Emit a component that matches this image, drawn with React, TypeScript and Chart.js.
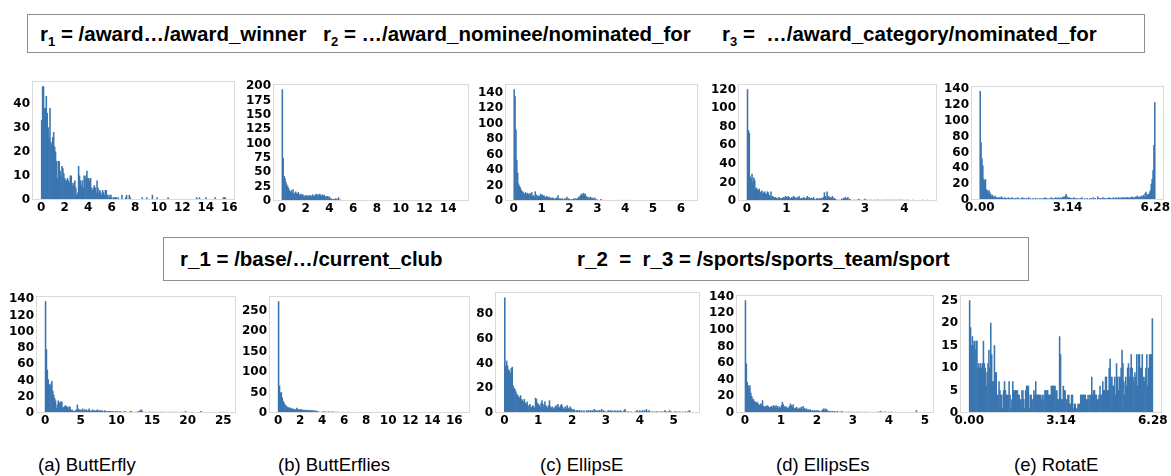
import { useEffect, useRef } from "react";
import { Chart, registerables } from "chart.js";

Chart.register(...registerables);

// ---------- DATA (histogram counts, 200 equal bins over each range) ----------
const aRange = [0, 15.7];
const aCounts = [
  33,47,47,38,38,43,36,30,26,38, 24,23,26,28,22,20,16,9,16,16,
  12,10,14,13,11,9,8,8,9,8, 7,10,10,6,7,6,8,5,2,3,
  14,10,8,6,8,5,10,9,10,12, 9,9,8,9,5,4,5,6,5,3,
  8,5,3,4,3,2,4,3,2,4, 4,2,1,2,1,2,1,0,1,1,
  1,1,0,1,0,0,0,2,0,0, 0,1,2,0,0,2,1,0,0,0,
  0,0,0,0,0,0,0,0,0,1, 0,0,0,0,1,0,0,0,0,0,
  2,0,0,0,0,1,0,0,0,0, 0,0,0,0,0,0,0,1,0,0,
  0,0,0,0,0,0,0,0,0,0, 0,0,0,0,0,0,0,0,0,0,
  0,0,0,0,0,0,0,0,1,0, 0,1,0,0,0,0,0,0,1,0,
  0,0,0,0,0,0,0,0,1,0, 0,0,0,0,0,0,0,1,1,1,
];
const aXTicks = [0, 2, 4, 6, 8, 10, 12, 14, 16];
const aYTicks = [0, 10, 20, 30, 40];

const bRange = [0, 15.0];
const bCounts = [
  194,74,43,39,33,28,25,22,18,15, 18,14,20,14,12,16,13,12,15,11,
  10,12,9,11,8,9,7,10,8,9, 8,10,9,7,11,9,8,10,12,9,
  11,9,12,10,8,11,9,10,7,8, 6,8,5,7,3,4,2,3,2,3,
  4,2,3,6,1,2,1,0,1,1, 0,1,1,0,1,0,1,1,0,1,
  0,1,0,0,1,0,1,0,0,1, 0,0,1,0,1,0,0,1,0,1,
  0,1,0,0,1,0,1,0,0,1, 0,0,1,0,0,1,0,1,0,0,
  1,0,0,1,0,0,1,0,1,0, 0,1,0,0,1,0,0,0,1,0,
  1,0,0,1,0,1,0,0,0,1, 0,0,1,0,0,0,1,0,0,0,
  1,0,0,0,1,0,0,1,0,0, 0,0,0,1,0,0,0,0,0,0,
  0,0,0,0,0,0,0,0,0,0, 0,0,0,0,0,0,0,0,1,1,
];
const bXTicks = [0, 2, 4, 6, 8, 10, 12, 14];
const bYTicks = [0, 25, 50, 75, 100, 125, 150, 175, 200];

const cRange = [0, 6.3];
const cCounts = [
  144,135,92,53,36,22,19,17,14,12, 12,10,9,11,8,10,9,7,10,8,
  11,6,7,5,12,8,6,7,5,6, 9,7,8,6,7,5,4,6,5,4,
  5,3,4,3,4,3,2,3,4,3, 7,3,2,3,2,3,1,2,3,2,
  5,2,3,2,1,2,1,2,3,1, 3,2,3,4,5,6,8,9,7,10,
  8,9,6,4,5,3,4,5,3,4, 3,2,4,1,2,1,1,0,1,2,
  1,0,1,1,0,0,1,0,0,1, 0,1,0,0,1,0,0,0,1,0,
  0,0,1,0,0,0,0,1,0,0, 1,0,0,0,0,0,0,0,0,1,
  0,0,0,0,0,1,0,0,0,0, 0,0,0,0,0,0,0,0,1,0,
  0,0,0,0,0,0,0,0,0,0, 0,0,0,0,0,0,0,0,0,0,
  0,0,0,0,0,0,0,0,0,0, 0,0,0,0,0,0,0,0,0,1,
];
const cXTicks = [0, 1, 2, 3, 4, 5, 6];
const cYTicks = [0, 20, 40, 60, 80, 100, 120, 140];

const dRange = [0, 4.6];
const dCounts = [
  120,76,73,26,24,29,20,25,22,13, 14,12,11,13,9,10,11,8,9,10,
  8,7,10,9,6,5,10,4,5,4, 3,4,3,2,3,4,2,3,2,3,
  4,3,5,4,3,5,4,2,3,4, 3,5,4,3,2,4,3,5,3,2,
  3,2,4,3,2,3,5,2,4,3, 2,3,2,4,2,1,2,3,2,2,
  3,2,3,2,4,9,5,3,10,4, 5,3,4,3,5,2,3,2,1,1,
  1,0,1,0,2,1,3,2,4,2, 3,4,1,2,1,0,1,0,1,0,
  1,1,0,2,0,1,0,0,1,0, 2,1,0,1,0,1,0,1,0,0,
  1,0,1,0,1,1,0,0,1,0, 1,0,1,1,0,1,0,1,0,1,
  0,1,1,0,1,0,1,0,1,1, 0,1,0,1,0,0,1,0,1,0,
  0,0,0,1,0,0,0,0,0,0, 0,0,0,0,1,0,0,0,0,1,
];
const dXTicks = [0, 1, 2, 3, 4];
const dYTicks = [0, 20, 40, 60, 80, 100, 120];

const eRange = [0, 6.2832];
const eCounts = [
  137,72,52,43,26,24,26,13,12,9, 12,9,7,5,6,4,3,5,3,3,
  2,3,3,2,4,3,2,1,3,2, 2,1,3,2,1,2,3,1,2,1,
  2,1,2,3,1,1,2,1,3,2, 1,2,1,2,1,3,1,2,1,1,
  2,1,1,2,1,2,1,1,2,1, 1,2,1,2,3,1,2,1,1,2,
  1,3,2,1,2,1,3,2,2,3, 2,1,3,2,3,4,3,5,7,4,
  3,2,3,2,2,1,2,3,1,2, 1,2,1,1,2,1,3,1,1,2,
  1,1,2,1,1,2,1,2,1,3, 1,2,1,1,4,2,1,2,1,2,
  3,1,2,1,2,1,2,3,2,2, 1,2,3,1,2,3,2,1,3,2,
  2,3,2,3,2,3,2,3,3,2, 3,2,3,4,3,3,2,4,3,5,
  3,4,3,4,5,4,6,4,8,10, 5,7,6,9,12,20,26,37,69,123,
];
const eXTicks = [0, 3.1416, 6.2832];
const eXLabels = ["0.00", "3.14", "6.28"];
const eYTicks = [0, 20, 40, 60, 80, 100, 120, 140];

const fRange = [0, 25.5];
const fCounts = [
  137,78,53,41,35,33,36,39,27,22, 18,15,6,10,15,12,13,14,13,6,
  7,8,9,8,7,5,8,7,3,4, 3,2,2,3,4,10,5,4,3,4,
  3,5,2,4,3,4,2,3,5,2, 3,2,4,2,3,2,3,4,2,3,
  3,2,3,2,1,3,2,2,1,2, 2,1,2,1,2,1,1,2,1,2,
  1,1,2,1,0,1,1,2,1,1, 1,0,1,1,2,1,0,1,1,0,
  1,1,2,1,3,4,3,1,0,1, 1,0,1,0,1,1,0,1,0,1,
  0,1,0,1,1,0,0,1,0,1, 0,1,0,0,1,0,1,0,0,0,
  1,0,0,1,0,1,0,0,0,1, 0,0,1,0,2,0,0,1,0,0,
  0,1,0,0,0,0,0,0,0,0, 0,2,0,0,0,0,0,0,0,0,
  0,0,0,0,0,0,0,0,0,0, 0,0,1,0,0,1,0,0,0,1,
];
const fXTicks = [0, 5, 10, 15, 20, 25];
const fYTicks = [0, 20, 40, 60, 80, 100, 120, 140];

const gRange = [0, 16.6];
const gCounts = [
  272,66,49,50,37,29,25,20,18,15, 14,12,13,10,11,9,10,8,9,8,
  12,9,8,7,9,7,8,6,7,6, 7,5,6,7,5,6,6,5,6,5,
  4,5,3,4,1,2,1,2,2,3, 2,3,2,1,2,3,2,2,1,3,
  2,1,2,2,1,2,1,1,2,1, 1,2,1,1,0,1,2,1,1,1,
  1,0,1,1,1,0,1,1,0,1, 1,0,0,1,0,1,0,0,1,0,
  1,0,0,0,1,0,0,1,0,0, 0,1,0,0,0,0,1,0,0,0,
  0,0,0,1,0,0,0,0,0,0, 1,0,0,0,0,0,0,1,0,0,
  0,0,0,0,1,0,0,0,0,0, 0,0,0,0,0,0,1,0,0,0,
  0,0,0,0,0,0,0,0,0,1, 0,0,0,0,0,0,0,0,0,0,
  0,0,0,0,1,0,0,0,0,0, 0,0,0,0,0,0,0,0,0,1,
];
const gXTicks = [0, 2, 4, 6, 8, 10, 12, 14, 16];
const gYTicks = [0, 50, 100, 150, 200, 250];

const hRange = [0, 5.5];
const hCounts = [
  93,38,42,38,35,34,32,36,37,22, 20,19,17,15,14,13,12,14,11,10,
  9,11,8,7,9,6,5,7,5,4, 6,5,4,12,11,8,7,6,5,8,
  10,7,5,9,6,5,4,6,10,5, 4,5,3,4,5,6,4,7,5,4,
  6,7,5,3,4,5,3,6,4,3, 5,4,3,2,3,2,1,2,2,1,
  2,1,2,1,1,2,1,0,2,1, 2,1,2,1,2,1,3,2,1,2,
  1,2,2,1,3,1,2,1,1,0, 1,2,1,2,1,2,1,1,2,1,
  1,2,1,1,2,1,1,0,2,3, 1,0,1,1,0,0,1,0,0,0,
  1,1,2,1,1,2,1,1,2,1, 2,1,3,1,1,2,0,1,0,1,
  0,1,0,1,1,0,0,1,0,1, 0,1,2,0,1,0,1,2,0,1,
  0,0,1,0,1,0,1,0,1,0, 0,1,0,0,1,0,1,0,2,1,
];
const hXTicks = [0, 1, 2, 3, 4, 5];
const hYTicks = [0, 20, 40, 60, 80];

const iRange = [0, 5.0];
const iCounts = [
  135,59,37,33,30,33,24,20,17,16, 14,13,12,13,11,10,9,11,10,15,
  8,7,8,7,9,8,7,6,7,8, 6,9,8,7,9,6,8,5,7,6,
  9,13,10,7,8,6,7,5,6,8, 11,9,7,10,6,5,6,7,5,4,
  6,5,7,4,8,6,5,4,5,3, 4,3,4,2,3,3,2,3,2,3,
  2,3,2,1,2,3,4,5,3,5, 4,3,2,2,1,2,1,2,1,2,
  1,1,2,1,0,1,1,2,0,1, 1,0,1,0,1,1,0,1,1,0,
  1,1,0,0,1,0,1,0,1,0, 1,0,0,1,0,0,1,0,0,0,
  0,1,0,0,0,0,1,0,1,1, 2,1,0,1,0,1,1,0,0,1,
  1,0,1,1,0,0,0,1,0,0, 0,0,0,0,0,0,0,0,0,0,
  0,0,0,0,0,0,0,0,0,1, 3,0,0,0,0,0,0,0,0,1,
];
const iXTicks = [0, 1, 2, 3, 4, 5];
const iYTicks = [0, 20, 40, 60, 80, 100, 120, 140];

const jRange = [0, 6.2832];
const jCounts = [
  25,19,15,17,15,16,14,16,16,10, 11,10,11,10,11,16,11,10,6,9,
  11,14,10,20,13,7,7,15,9,9, 4,4,7,5,4,4,1,5,7,5,
  4,4,4,7,4,1,3,7,5,5, 5,5,5,4,4,3,3,5,5,3,
  1,5,6,6,6,1,4,4,3,3, 5,4,7,4,4,4,4,4,3,4,
  3,4,5,5,5,5,4,4,4,6, 6,6,6,6,5,5,3,3,17,13,
  3,3,6,5,5,3,3,4,4,2, 2,4,4,1,2,2,1,1,2,2,
  2,4,4,4,4,4,4,3,3,4, 3,4,4,8,4,5,5,4,4,3,
  3,4,6,4,4,7,5,5,8,8, 5,5,10,12,8,8,6,6,8,4,
  11,8,5,8,8,10,14,11,7,4, 8,6,10,11,8,10,13,10,8,7,
  9,8,13,6,13,13,10,10,13,8, 7,8,10,13,6,10,13,13,13,21,
];
const jXTicks = [0, 3.1416, 6.2832];
const jXLabels = ["0.00", "3.14", "6.28"];
const jYTicks = [0, 5, 10, 15, 20, 25];

const captions = ["(a) ButtErfly", "(b) ButtErflies", "(c) EllipsE", "(d) EllipsEs", "(e) RotatE"];

// ---------- rendering ----------
const BAR = "#3a75b0";
const YW = 44, PT = 12, PR = 24, XH = 24;

const framePlugin = {
  id: "frame",
  afterDatasetsDraw(chart: any) {
    const { ctx, chartArea: a } = chart;
    ctx.save();
    ctx.strokeStyle = "#dadada";
    ctx.lineWidth = 1;
    ctx.strokeRect(Math.round(a.left) + 0.5, Math.round(a.top) + 0.5, Math.round(a.right - a.left) - 1, Math.round(a.bottom - a.top) - 1);
    ctx.restore();
  },
};

type HistProps = {
  frame: number[];
  counts: number[];
  range: number[];
  xTicks: number[];
  xLabels?: string[];
  yTicks: number[];
};

function Hist({ frame, counts, range, xTicks, xLabels, yTicks }: HistProps) {
  const ref = useRef<HTMLCanvasElement | null>(null);
  const [fl, ft, fw, fh] = frame;
  const cw = YW + fw + PR;
  const ch = PT + fh + XH;
  useEffect(() => {
    const [x0, x1] = range;
    const n = counts.length;
    const w = (x1 - x0) / n;
    const data = counts
      .map((c, i) => ({ x: x0 + (i + 0.5) * w, y: c }))
      .filter((p) => p.y > 0);
    const span = x1 - x0;
    const ymax = Math.max(...counts) * 1.05;
    const tickFont = { family: "'DejaVu Sans', sans-serif", size: 12, weight: "bold" as const };
    const chart = new Chart(ref.current as HTMLCanvasElement, {
      type: "bar",
      data: {
        datasets: [
          {
            data: data as any,
            backgroundColor: BAR,
            borderWidth: 0,
            barPercentage: 1,
            categoryPercentage: 1,
            grouped: false,
          } as any,
        ],
      },
      options: {
        animation: false,
        responsive: false,
        maintainAspectRatio: false,
        events: [],
        layout: { padding: { left: 0, top: PT, right: PR, bottom: 0 } },
        plugins: { legend: { display: false }, tooltip: { enabled: false } },
        scales: {
          x: {
            type: "linear",
            offset: false,
            min: x0 - 0.05 * span,
            max: x1 + 0.05 * span,
            grid: { display: false, drawTicks: false },
            border: { display: false },
            afterBuildTicks: (s: any) => {
              s.ticks = xTicks.map((v) => ({ value: v }));
            },
            afterFit: (s: any) => {
              s.height = XH;
            },
            ticks: {
              autoSkip: false,
              maxRotation: 0,
              minRotation: 0,
              padding: 1,
              color: "#000",
              font: tickFont,
              callback: (v: any, i: number) => (xLabels ? xLabels[i] : String(xTicks[i])),
            },
          },
          y: {
            type: "linear",
            min: 0,
            max: ymax,
            grid: { display: false, drawTicks: false },
            border: { display: false },
            afterBuildTicks: (s: any) => {
              s.ticks = yTicks.map((v) => ({ value: v }));
            },
            afterFit: (s: any) => {
              s.width = YW;
            },
            ticks: {
              autoSkip: false,
              padding: 2,
              color: "#000",
              font: tickFont,
              callback: (v: any, i: number) => String(yTicks[i]),
            },
          },
        },
      },
      plugins: [framePlugin],
    });
    return () => chart.destroy();
  }, []);
  return (
    <canvas
      ref={ref}
      width={cw}
      height={ch}
      style={{ position: "absolute", left: fl - YW, top: ft - PT, width: cw, height: ch }}
    />
  );
}

const headFont = "'Liberation Sans', Arial, sans-serif";

function Sub({ t }: { t: string }) {
  return <span style={{ fontSize: 13, position: "relative", top: 5 }}>{t}</span>;
}

export default function App() {
  const headText: any = {
    position: "absolute",
    fontFamily: headFont,
    fontWeight: "bold",
    fontSize: 20.5,
    lineHeight: "20px",
    whiteSpace: "pre",
    color: "#000",
  };
  const capLeft = [38, 278, 540, 776, 1014];
  return (
    <div
      style={{
        position: "fixed",
        left: 0,
        top: 0,
        width: 1171,
        height: 476,
        background: "#fff",
        overflow: "hidden",
      }}
    >
      <div style={{ position: "absolute", left: 27, top: 14, width: 1118, height: 39, border: "1px solid #8f8f8f", boxSizing: "border-box" }} />
      <div style={{ ...headText, left: 40, top: 24 }}>
        r<Sub t="1" /> = /award…/award_winner
      </div>
      <div style={{ ...headText, left: 323, top: 24 }}>
        r<Sub t="2" /> = …/award_nominee/nominated_for
      </div>
      <div style={{ ...headText, left: 722, top: 24 }}>
        r<Sub t="3" /> =  …/award_category/nominated_for
      </div>

      <div style={{ position: "absolute", left: 163, top: 237, width: 866, height: 44, border: "1px solid #8f8f8f", boxSizing: "border-box" }} />
      <div style={{ ...headText, left: 180, top: 249 }}>r_1 = /base/…/current_club</div>
      <div style={{ ...headText, left: 577, top: 249 }}>r_2  =  r_3 = /sports/sports_team/sport</div>

      <Hist frame={[32, 81, 203, 119]} counts={aCounts} range={aRange} xTicks={aXTicks} yTicks={aYTicks} />
      <Hist frame={[273, 84, 196, 117]} counts={bCounts} range={bRange} xTicks={bXTicks} yTicks={bYTicks} />
      <Hist frame={[505, 84, 193, 117]} counts={cCounts} range={cRange} xTicks={cXTicks} yTicks={cYTicks} />
      <Hist frame={[738, 84, 199, 117]} counts={dCounts} range={dRange} xTicks={dXTicks} yTicks={dYTicks} />
      <Hist frame={[971, 86, 193, 114]} counts={eCounts} range={eRange} xTicks={eXTicks} xLabels={eXLabels} yTicks={eYTicks} />

      <Hist frame={[36, 296, 200, 117]} counts={fCounts} range={fRange} xTicks={fXTicks} yTicks={fYTicks} />
      <Hist frame={[269, 296, 201, 117]} counts={gCounts} range={gRange} xTicks={gXTicks} yTicks={gYTicks} />
      <Hist frame={[495, 292, 205, 121]} counts={hCounts} range={hRange} xTicks={hXTicks} yTicks={hYTicks} />
      <Hist frame={[736, 295, 198, 118]} counts={iCounts} range={iRange} xTicks={iXTicks} yTicks={iYTicks} />
      <Hist frame={[960, 295, 202, 118]} counts={jCounts} range={jRange} xTicks={jXTicks} xLabels={jXLabels} yTicks={jYTicks} />

      {captions.map((c, k) => (
        <div
          key={c}
          style={{
            position: "absolute",
            left: capLeft[k],
            top: 455,
            fontFamily: headFont,
            fontSize: 18.5,
            lineHeight: "20px",
            whiteSpace: "pre",
            color: "#000",
          }}
        >
          {c}
        </div>
      ))}
    </div>
  );
}
